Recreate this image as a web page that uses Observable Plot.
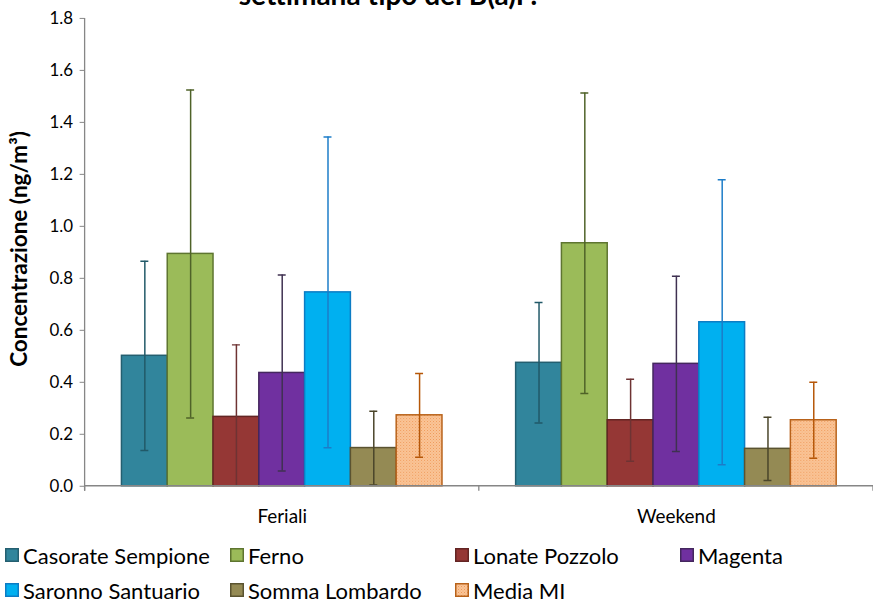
<!DOCTYPE html>
<html>
<head>
<meta charset="utf-8">
<script src="https://cdn.jsdelivr.net/npm/d3@7"></script>
<script src="https://cdn.jsdelivr.net/npm/@observablehq/plot@0.6"></script>
<style>
  html, body { margin: 0; padding: 0; background: #fff; overflow: hidden; width: 873px; height: 600px; }
  #wrap { position: relative; width: 873px; height: 600px; overflow: hidden; }
  #title { position: absolute; left: 0; width: 776px; top: -20px; text-align: center;
           font-family: Lato, "Liberation Sans", sans-serif; font-weight: bold; font-size: 28px; line-height: 28px; color: #000; }
  #ylabel { position: absolute; left: 18px; top: 249px; transform: translate(-50%, -50%) rotate(-90deg);
            font-family: Lato, "Liberation Sans", sans-serif; font-weight: bold; font-size: 22.5px; white-space: nowrap; color: #000; }
  #chart { position: absolute; left: 0; top: 0; }
  #legend { position: absolute; left: 0; top: 0; width: 873px; font-family: Lato, "Liberation Sans", sans-serif; font-size: 22px; color: #000; }
  .item { position: absolute; display: flex; align-items: center; white-space: nowrap; }
  .item svg { margin-right: 4px; }
</style>
</head>
<body>
<svg width="0" height="0" style="position:absolute">
  <defs>
    <pattern id="mediaHatch" width="3" height="3" patternUnits="userSpaceOnUse">
      <rect width="3" height="3" fill="#FAC598"></rect>
      <rect x="0" y="0" width="1" height="1" fill="#EF9A5A"></rect>
      <rect x="1.5" y="1.5" width="1" height="1" fill="#F3AA72"></rect>
    </pattern>
  </defs>
</svg>
<div id="wrap">
  <div id="chart"></div>
  <div id="title">settimana tipo del B(a)P.</div>
  <div id="ylabel">Concentrazione (ng/m³)</div>
  <div id="legend"></div>
</div>
<script>
// ---- data ----
const groups = ["Feriali", "Weekend"];
const series = ["Casorate Sempione", "Ferno", "Lonate Pozzolo", "Magenta", "Saronno Santuario", "Somma Lombardo", "Media MI"];
const meanFeriali = [0.502, 0.894, 0.267, 0.436, 0.746, 0.147, 0.273];
const sdFeriali   = [0.364, 0.631, 0.277, 0.377, 0.598, 0.142, 0.161];
const meanWeekend = [0.475, 0.935, 0.254, 0.471, 0.631, 0.144, 0.254];
const sdWeekend   = [0.232, 0.578, 0.158, 0.337, 0.548, 0.122, 0.146];
const yTicks = [0, 0.2, 0.4, 0.6, 0.8, 1.0, 1.2, 1.4, 1.6, 1.8];

// ---- styles ----
const fills   = ["#31859C", "#9BBB59", "#953735", "#7030A0", "#00B0F0", "#948A54", "url(#mediaHatch)"];
const strokes = ["#245F70", "#5E7530", "#632523", "#44275E", "#0C7CC4", "#5A5330", "#B8621A"];
const errCols = ["#215968", "#4F6228", "#6E3333", "#3F3151", "#1C7CC8", "#4A452A", "#B65708"];

const means = [meanFeriali, meanWeekend];
const sds = [sdFeriali, sdWeekend];
const rows = [];
groups.forEach((g, gi) => series.forEach((s, si) =>
  rows.push({group: g, series: s, value: means[gi][si], sd: sds[gi][si]})));

const axisGray = "#868686";

function axisLines() {
  return Plot.frame({
    facet: "super",
    render(index, scales, values, dims) {
      const {marginLeft, marginTop, marginRight, marginBottom, width, height} = dims;
      const y0 = scales.y ? scales.y(0) : height - marginBottom;
      const g = d3.create("svg:g").attr("stroke", axisGray).attr("stroke-width", 1.3).attr("fill", "none");
      g.append("line").attr("x1", marginLeft).attr("x2", marginLeft).attr("y1", marginTop).attr("y2", y0 + 5);
      g.append("line").attr("x1", marginLeft).attr("x2", width - marginRight).attr("y1", y0).attr("y2", y0);
      const fx = scales.fx;
      const bw = fx && fx.bandwidth ? fx.bandwidth() : (width - marginLeft - marginRight) / groups.length;
      const edges = groups.map((gr, i) => fx ? fx(gr) : marginLeft + i * bw);
      edges.push(edges[edges.length - 1] + bw);
      for (const e of edges) g.append("line").attr("x1", e).attr("x2", e).attr("y1", y0).attr("y2", y0 + 5);
      return g.node();
    }
  });
}

const seriesMarks = [];
series.forEach((s, i) => {
  const d = rows.filter(r => r.series === s);
  seriesMarks.push(
    Plot.barY(d, {fx: "group", x: "series", y: "value", fill: fills[i], stroke: strokes[i], strokeWidth: 1.5})
  );
});
series.forEach((s, i) => {
  const d = rows.filter(r => r.series === s);
  seriesMarks.push(
    Plot.ruleX(d, {fx: "group", x: "series", y1: r => r.value - r.sd, y2: r => r.value + r.sd, stroke: errCols[i], strokeWidth: 1.5, clip: true}),
    Plot.tickY(d, {fx: "group", x: "series", y: r => r.value + r.sd, stroke: errCols[i], strokeWidth: 1.5, insetLeft: 19, insetRight: 19, clip: true}),
    Plot.tickY(d, {fx: "group", x: "series", y: r => r.value - r.sd, stroke: errCols[i], strokeWidth: 1.5, insetLeft: 19, insetRight: 19, clip: true})
  );
});

const chart = Plot.plot({
  width: 877,
  height: 530,
  marginTop: 18,
  marginBottom: 42,
  marginLeft: 85,
  marginRight: 0,
  style: {fontFamily: "Lato, 'Liberation Sans', sans-serif", fontSize: "17px", color: "#000", background: "transparent", overflow: "visible"},
  fx: {domain: groups, padding: 0, label: null},
  x: {domain: series, paddingInner: 0, paddingOuter: 0.74, axis: null},
  y: {domain: [0, 1.8], label: null},
  marks: [
    Plot.axisY({ticks: yTicks, tickFormat: d3.format(".1f"), tickSize: 5, tickPadding: 7, stroke: axisGray, fill: "#000", label: null, fontSize: 17}),
    Plot.axisFx({anchor: "bottom", tickSize: 0, tickPadding: 23, label: null, fontSize: 19, fill: "#000"}),
    ...seriesMarks,
    axisLines()
  ]
});
document.getElementById("chart").appendChild(chart);

// ---- legend ----
const legend = document.getElementById("legend");
const colX = [5, 230, 455, 680];
const rowY = [555, 590];
series.forEach((s, i) => {
  const item = document.createElement("div");
  item.className = "item";
  const c = i % 4, r = Math.floor(i / 4);
  item.style.left = colX[c] + "px";
  item.style.top = (rowY[r] - 12) + "px";
  item.style.height = "24px";
  item.innerHTML = `<svg width="14" height="14"><rect x="0.75" y="0.75" width="12.5" height="12.5" fill="${fills[i]}" stroke="${strokes[i]}" stroke-width="1.5"></rect></svg><span>${s}</span>`;
  legend.appendChild(item);
});
</script>
</body>
</html>
